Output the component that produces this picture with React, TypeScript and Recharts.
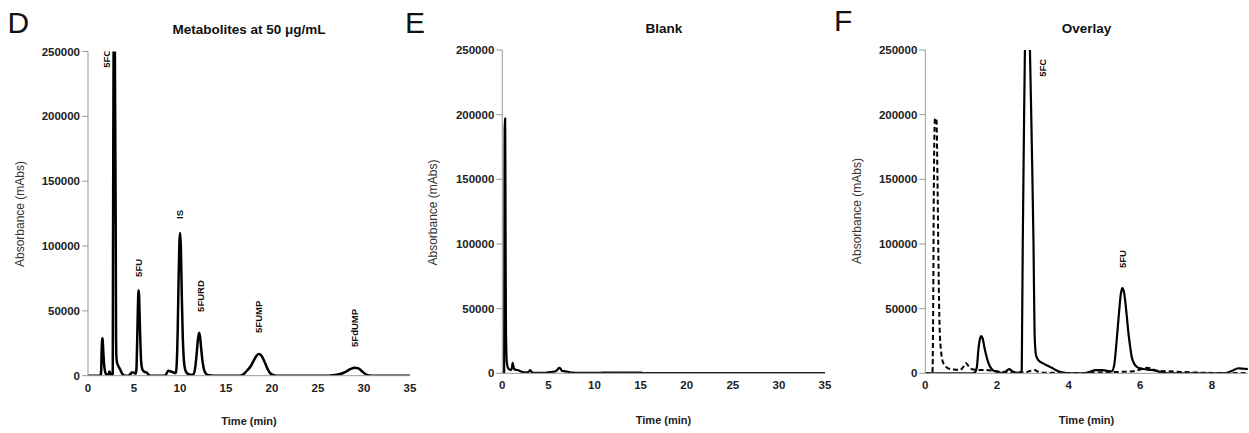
import React from 'react';
import { ComposedChart, Line, XAxis, YAxis, Scatter } from 'recharts';

// Sample chromatogram (metabolites at 50 µg/mL): [time (min), absorbance (mAbs)]
const sampleTrace: [number, number][] = [
  [0, 0], [0.5, 0], [1.0, 0], [1.3, 0], [1.38, 600], [1.44, 5000], [1.48, 18000], [1.52, 26000],
  [1.56, 28800], [1.6, 27000], [1.65, 20000], [1.71, 12800], [1.76, 8000], [1.81, 5100],
  [1.88, 2500], [1.95, 1500], [2.05, 600], [2.15, 400], [2.25, 1500], [2.34, 3300], [2.42, 1800],
  [2.52, 500], [2.65, 300], [2.69, 2000], [2.7, 30000], [2.72, 100000], [2.75, 180000],
  [2.78, 250000], [2.85, 300000], [2.92, 250000], [2.97, 180000], [3.02, 100000], [3.05, 30000],
  [3.09, 14000], [3.16, 10000], [3.29, 7700], [3.42, 5800], [3.53, 4300], [3.65, 2400],
  [3.76, 1100], [3.9, 300], [4.05, 0], [4.4, 0], [4.6, 1200], [4.75, 2400], [4.95, 2500],
  [5.1, 1800], [5.2, 1500], [5.27, 6000], [5.33, 22000], [5.4, 45000], [5.46, 62000],
  [5.5, 65800], [5.55, 62000], [5.62, 45000], [5.67, 30900], [5.72, 20000], [5.76, 12800],
  [5.82, 8000], [5.9, 5100], [6.0, 3800], [6.08, 3300], [6.2, 2800], [6.36, 2500], [6.5, 1500],
  [6.6, 600], [6.8, 0], [7.5, 0], [8.0, 0], [8.4, 200], [8.55, 1800], [8.74, 3900], [8.9, 3500],
  [9.1, 3000], [9.3, 2600], [9.45, 2000], [9.55, 2500], [9.65, 10000], [9.75, 35000],
  [9.85, 75000], [9.95, 105000], [10.02, 110000], [10.1, 98000], [10.2, 60000], [10.3, 30000],
  [10.42, 12000], [10.55, 5000], [10.75, 2000], [11.0, 900], [11.3, 600], [11.5, 1500],
  [11.65, 6000], [11.8, 16000], [11.95, 28000], [12.07, 33200], [12.18, 30000], [12.3, 21000],
  [12.45, 11000], [12.6, 5000], [12.8, 1800], [13.0, 600], [13.4, 100], [13.8, 0], [15, 0],
  [16.5, 0], [16.8, 600], [17.1, 2500], [17.4, 4800], [17.7, 7500], [18.0, 11500],
  [18.3, 15200], [18.6, 16700], [18.9, 15000], [19.2, 10500], [19.5, 5500], [19.8, 2000],
  [20.1, 600], [20.5, 0], [25, 0], [26.0, 0], [26.5, 300], [27.0, 700], [27.5, 1500],
  [28.0, 3000], [28.5, 5000], [29.0, 6200], [29.4, 5600], [29.8, 3300], [30.2, 1100],
  [30.6, 200], [31.0, 0], [33, 0], [35, 0],
];

// Blank chromatogram: [time (min), absorbance (mAbs)]
const blankTrace: [number, number][] = [
  [0, 0], [0.15, 0], [0.2, 500], [0.22, 50000], [0.24, 150000], [0.27, 197000], [0.31, 197000],
  [0.34, 150000], [0.37, 80000], [0.4, 35000], [0.44, 17000], [0.5, 8000], [0.6, 4500],
  [0.7, 3300], [0.85, 2800], [0.97, 2500], [1.05, 4500], [1.13, 8000], [1.22, 5000],
  [1.3, 3200], [1.5, 2600], [1.7, 2500], [1.9, 1800], [2.2, 1000], [2.5, 700], [2.8, 800],
  [2.95, 2000], [3.05, 2500], [3.15, 1200], [3.4, 400], [4.0, 300], [4.5, 300], [5.0, 800],
  [5.5, 1200], [5.8, 1600], [6.0, 3000], [6.15, 4200], [6.3, 3800], [6.45, 2000], [6.8, 1500],
  [7.2, 1000], [7.7, 500], [8.2, 300], [9, 300], [10, 300], [11, 500], [13, 600], [15, 500],
  [15.3, 200], [18, 200], [25, 200], [35, 200],
];

const yTicks = [0, 50000, 100000, 150000, 200000, 250000];
const xTicksFull = [0, 5, 10, 15, 20, 25, 30, 35];
const xTicksOverlay = [0, 2, 4, 6, 8];

const peakLabelsD = [
  { name: '5FC', t: 2.02, v: 237500 },
  { name: '5FU', t: 5.5, v: 76200 },
  { name: 'IS', t: 10.0, v: 120900 },
  { name: '5FURD', t: 12.2, v: 49200 },
  { name: '5FUMP', t: 18.5, v: 33000 },
  { name: '5FdUMP', t: 29.0, v: 22200 },
];
const peakLabelsF = [
  { name: '5FC', t: 3.27, v: 229300 },
  { name: '5FU', t: 5.49, v: 81400 },
];

const rows = (arr: [number, number][]) => arr.map(([t, v]) => ({ t, v }));
const sampleRows = rows(sampleTrace);
const blankRows = rows(blankTrace);

const FONT = '"Liberation Sans", Arial, Helvetica, sans-serif';
const tickStyle = { fill: '#222', fontSize: 11.5, fontWeight: 700, fontFamily: FONT };

const RotLabel = (props: any) => {
  const { cx, cy, payload } = props;
  if (cx == null || cy == null) return null;
  return (
    <text
      x={cx}
      y={cy}
      transform={`rotate(-90 ${cx} ${cy})`}
      textAnchor="start"
      dominantBaseline="central"
      fontSize={9.5}
      fontWeight={700}
      fontFamily={FONT}
      fill="#111"
    >
      {payload.name}
    </text>
  );
};

type SeriesDef = { data: { t: number; v: number }[]; width: number; dash?: string };

function Panel(props: {
  left: number;
  width: number;
  margin: { top: number; right: number; bottom: number; left: number };
  xDomain: [number, number];
  xTicks: number[];
  series: SeriesDef[];
  labels?: { name: string; t: number; v: number }[];
}) {
  const { left, width, margin, xDomain, xTicks, series, labels } = props;
  return (
    <div style={{ position: 'absolute', left, top: 0 }}>
      <ComposedChart width={width} height={433} margin={margin}>
        <XAxis
          dataKey="t"
          type="number"
          domain={xDomain}
          ticks={xTicks}
          interval={0}
          allowDataOverflow
          height={30}
          tickLine={false}
          axisLine={{ stroke: '#999' }}
          tick={tickStyle}
        />
        <YAxis
          type="number"
          domain={[0, 250000]}
          ticks={yTicks}
          interval={0}
          allowDataOverflow
          width={60}
          tickSize={6}
          tickLine={{ stroke: '#999' }}
          axisLine={{ stroke: '#999' }}
          tick={tickStyle}
        />
        {series.map((s, i) => (
          <Line
            key={i}
            data={s.data}
            dataKey="v"
            type="monotone"
            stroke="#000"
            strokeWidth={s.width}
            strokeDasharray={s.dash}
            dot={false}
            activeDot={false}
            isAnimationActive={false}
          />
        ))}
        {labels && (
          <Scatter data={labels} dataKey="v" shape={RotLabel} isAnimationActive={false} />
        )}
      </ComposedChart>
    </div>
  );
}

export default function App() {
  return (
    <div
      style={{
        position: 'absolute',
        left: 0,
        top: 0,
        width: 1249,
        height: 433,
        background: '#fff',
        overflow: 'hidden',
      }}
    >
      <Panel
        left={0}
        width={420}
        margin={{ top: 51.5, right: 10, bottom: 27.3, left: 28 }}
        xDomain={[0, 35]}
        xTicks={xTicksFull}
        series={[{ data: sampleRows, width: 2.5 }]}
        labels={peakLabelsD}
      />
      <Panel
        left={420}
        width={420}
        margin={{ top: 50, right: 15, bottom: 29.7, left: 22.3 }}
        xDomain={[0, 35]}
        xTicks={xTicksFull}
        series={[{ data: blankRows, width: 2.2 }]}
      />
      <Panel
        left={830}
        width={419}
        margin={{ top: 50, right: 1.2, bottom: 29.7, left: 35.3 }}
        xDomain={[0, 9]}
        xTicks={xTicksOverlay}
        series={[
          { data: sampleRows, width: 2.2 },
          { data: blankRows, width: 2, dash: '5 3' },
        ]}
        labels={peakLabelsF}
      />
      <svg
        width={1249}
        height={433}
        style={{ position: 'absolute', left: 0, top: 0, pointerEvents: 'none' }}
        fontFamily={FONT}
      >
        <text x={7.6} y={33} fontSize={30} fill="#111">D</text>
        <text x={405} y={33} fontSize={30} fill="#111">E</text>
        <text x={834} y={31} fontSize={30} fill="#111">F</text>

        <text x={249} y={34} fontSize={13.5} fontWeight={700} textAnchor="middle" fill="#111">
          Metabolites at 50 μg/mL
        </text>
        <text x={664} y={33} fontSize={13.5} fontWeight={700} textAnchor="middle" fill="#111">
          Blank
        </text>
        <text x={1086.5} y={33} fontSize={13.5} fontWeight={700} textAnchor="middle" fill="#111">
          Overlay
        </text>

        <text x={249} y={425} fontSize={11} fontWeight={700} textAnchor="middle" fill="#222">
          Time (min)
        </text>
        <text x={663.5} y={424} fontSize={11} fontWeight={700} textAnchor="middle" fill="#222">
          Time (min)
        </text>
        <text x={1086.5} y={424} fontSize={11} fontWeight={700} textAnchor="middle" fill="#222">
          Time (min)
        </text>

        <text x={24} y={214} fontSize={12} textAnchor="middle" fill="#333" transform="rotate(-90 24 214)">
          Absorbance (mAbs)
        </text>
        <text x={437} y={212.5} fontSize={12} textAnchor="middle" fill="#333" transform="rotate(-90 437 212.5)">
          Absorbance (mAbs)
        </text>
        <text x={861} y={211} fontSize={12} textAnchor="middle" fill="#333" transform="rotate(-90 861 211)">
          Absorbance (mAbs)
        </text>
      </svg>
    </div>
  );
}
